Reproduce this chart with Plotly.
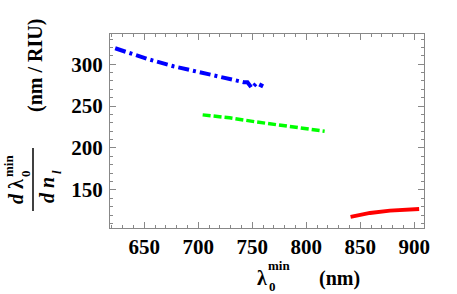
import plotly.graph_objects as go

# ---- data ----
blue_x = [623, 652, 677, 702, 723, 742, 745.5, 749.5, 754, 760]
blue_y = [319, 306.5, 297.5, 290, 283, 278.5, 278.5, 271.5, 277.5, 273.5]

green_x = [704, 729, 754, 785, 817]
green_y = [239.5, 236, 231, 226, 220]

red_x = [841, 859, 877.5, 893, 904.5]
red_y = [117.7, 122.4, 125.2, 126.4, 127.2]

x_ticks = [650, 700, 750, 800, 850, 900]
y_ticks = [150, 200, 250, 300]
x_range = [618.2, 909]
y_range = [104.5, 336]

W, H = 457, 294
L, R, T, B = 110, 33, 34, 66
PW, PH = W - L - R, H - T - B
FONT = "Liberation Serif"


def px(x):
    return (x - L) / PW


def py(y):
    return (H - B - y) / PH


fig = go.Figure()
fig.add_trace(go.Scatter(x=blue_x, y=blue_y, mode="lines",
                         line=dict(color="#0000FF", width=4, dash="11px,4px,3px,4px"),
                         showlegend=False))
fig.add_trace(go.Scatter(x=green_x, y=green_y, mode="lines",
                         line=dict(color="#00FF00", width=3.5, dash="8px,3px"),
                         showlegend=False))
fig.add_trace(go.Scatter(x=red_x, y=red_y, mode="lines",
                         line=dict(color="#FF0000", width=3.8),
                         showlegend=False))

axis_common = dict(
    showline=True, linecolor="#888888", linewidth=1, mirror="ticks",
    ticks="inside", ticklen=6, tickcolor="#888888", tickwidth=1,
    showgrid=False, zeroline=False, automargin=False,
    tickfont=dict(family=FONT, size=21, color="black", weight="bold"),
    minor=dict(ticks="inside", ticklen=3, tickcolor="#888888", dtick=10, showgrid=False),
)

fig.update_xaxes(range=x_range, tickvals=x_ticks, ticktext=[str(v) for v in x_ticks],
                 **axis_common)
fig.update_yaxes(range=y_range, tickvals=y_ticks, ticktext=[str(v) for v in y_ticks],
                 ticklabelstandoff=2, **axis_common)


def ann(text, x, y, size=20, angle=0, xa="center", ya="middle"):
    fig.add_annotation(text=text, x=px(x), y=py(y), xref="paper", yref="paper",
                       showarrow=False, textangle=angle, xanchor=xa, yanchor=ya,
                       font=dict(family=FONT, size=size, color="black", weight="bold"))


# x-axis title: λ_0^min (nm)
ann("λ", 262, 278)
ann("min", 279, 265, size=13)
ann("0", 272, 286, size=13)
ann("(nm)", 339, 278)

# y-axis title: d λ_0^min / d n_l (nm / RIU)
ann("<i>d</i> λ", 16, 192, angle=-90)
ann("min", 8, 166, size=13, angle=-90)
ann("0", 25, 174, size=13, angle=-90)
ann("<i>d n</i>", 47, 190, angle=-90)
ann("<i>l</i>", 56, 172, size=13, angle=-90)
ann("(nm / RIU)", 35, 66, angle=-90)

fig.add_shape(type="line", xref="paper", yref="paper",
              x0=px(33), x1=px(33), y0=py(148), y1=py(211),
              line=dict(color="black", width=1.5))

fig.update_layout(width=W, height=H, margin=dict(l=L, r=R, t=T, b=B),
                  plot_bgcolor="white", paper_bgcolor="white")

fig.write_html("out.html", config={"displayModeBar": False},
               post_script="document.body.style.margin='0';")
